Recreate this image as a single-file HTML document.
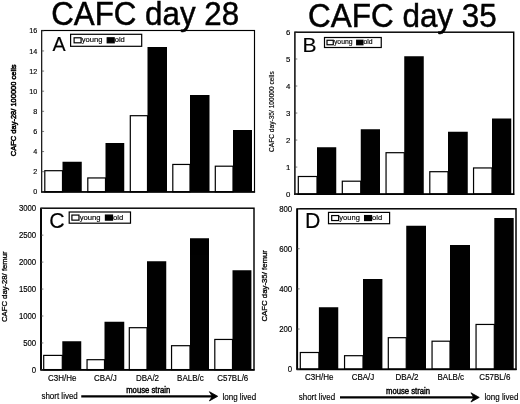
<!DOCTYPE html>
<html><head><meta charset="utf-8"><title>CAFC</title>
<style>
html,body{margin:0;padding:0;background:#fff;}
text{stroke:#000;stroke-width:0.15px;}
svg{display:block;opacity:0.999;will-change:transform;font-family:"Liberation Sans", sans-serif;fill:#000;}
</style></head><body>
<svg width="520" height="404" viewBox="0 0 520 404">
<rect x="0" y="0" width="520" height="404" fill="#fff"/>
<rect x="44.80" y="170.70" width="17.70" height="21.10" fill="#fff" stroke="#000" stroke-width="1.2"/>
<rect x="62.50" y="161.75" width="19.25" height="30.05" fill="#000"/>
<rect x="87.80" y="177.95" width="17.70" height="13.85" fill="#fff" stroke="#000" stroke-width="1.2"/>
<rect x="105.50" y="143.00" width="18.75" height="48.80" fill="#000"/>
<rect x="130.30" y="115.70" width="17.20" height="76.10" fill="#fff" stroke="#000" stroke-width="1.2"/>
<rect x="147.50" y="47.00" width="19.50" height="144.80" fill="#000"/>
<rect x="172.80" y="164.45" width="17.20" height="27.35" fill="#fff" stroke="#000" stroke-width="1.2"/>
<rect x="190.00" y="95.00" width="19.50" height="96.80" fill="#000"/>
<rect x="215.30" y="166.20" width="17.70" height="25.60" fill="#fff" stroke="#000" stroke-width="1.2"/>
<rect x="233.00" y="130.00" width="19.00" height="61.80" fill="#000"/>
<rect x="41.70" y="30.50" width="212.80" height="161.30" fill="none" stroke="#000" stroke-width="1.15"/>
<line x1="41.10" x2="255.10" y1="192.05" y2="192.05" stroke="#000" stroke-width="1.5"/>
<text transform="translate(37.20,194.36)" font-size="7.2" text-anchor="end">0</text>
<line x1="41.70" x2="44.10" y1="191.80" y2="191.80" stroke="#444" stroke-width="0.7"/>
<text transform="translate(37.20,174.24)" font-size="7.2" text-anchor="end">2</text>
<line x1="41.70" x2="44.10" y1="171.68" y2="171.68" stroke="#444" stroke-width="0.7"/>
<text transform="translate(37.20,154.12)" font-size="7.2" text-anchor="end">4</text>
<line x1="41.70" x2="44.10" y1="151.56" y2="151.56" stroke="#444" stroke-width="0.7"/>
<text transform="translate(37.20,134.00)" font-size="7.2" text-anchor="end">6</text>
<line x1="41.70" x2="44.10" y1="131.44" y2="131.44" stroke="#444" stroke-width="0.7"/>
<text transform="translate(37.20,113.88)" font-size="7.2" text-anchor="end">8</text>
<line x1="41.70" x2="44.10" y1="111.32" y2="111.32" stroke="#444" stroke-width="0.7"/>
<text transform="translate(37.20,93.76)" font-size="7.2" text-anchor="end">10</text>
<line x1="41.70" x2="44.10" y1="91.20" y2="91.20" stroke="#444" stroke-width="0.7"/>
<text transform="translate(37.20,73.64)" font-size="7.2" text-anchor="end">12</text>
<line x1="41.70" x2="44.10" y1="71.08" y2="71.08" stroke="#444" stroke-width="0.7"/>
<text transform="translate(37.20,53.52)" font-size="7.2" text-anchor="end">14</text>
<line x1="41.70" x2="44.10" y1="50.96" y2="50.96" stroke="#444" stroke-width="0.7"/>
<text transform="translate(37.20,33.40)" font-size="7.2" text-anchor="end">16</text>
<line x1="41.70" x2="44.10" y1="30.84" y2="30.84" stroke="#444" stroke-width="0.7"/>
<text transform="translate(16.35,110.30) rotate(-90)" font-size="7.5" text-anchor="middle" style="stroke-width:0.5px">CAFC day-28/ 100000 cells</text>
<text transform="translate(52.60,50.70)" font-size="19.7" text-anchor="start">A</text>
<rect x="70.60" y="34.30" width="71.10" height="12.00" fill="#fff" stroke="#000" stroke-width="1.2"/>
<rect x="74.10" y="37.79" width="6.99" height="5.02" fill="#fff" stroke="#000" stroke-width="1.2"/>
<text transform="translate(81.79,42.35)" font-size="7.6" text-anchor="start">young</text>
<rect x="107.21" y="37.79" width="6.99" height="5.02" fill="#000" stroke="#000" stroke-width="1.2"/>
<text transform="translate(114.70,42.35)" font-size="7.6" text-anchor="start">old</text>
<rect x="298.30" y="176.50" width="18.70" height="17.60" fill="#fff" stroke="#000" stroke-width="1.2"/>
<rect x="317.00" y="147.25" width="19.25" height="46.85" fill="#000"/>
<rect x="342.30" y="181.20" width="18.45" height="12.90" fill="#fff" stroke="#000" stroke-width="1.2"/>
<rect x="360.75" y="129.25" width="19.25" height="64.85" fill="#000"/>
<rect x="386.05" y="152.70" width="18.20" height="41.40" fill="#fff" stroke="#000" stroke-width="1.2"/>
<rect x="404.25" y="56.25" width="19.50" height="137.85" fill="#000"/>
<rect x="429.80" y="171.70" width="18.20" height="22.40" fill="#fff" stroke="#000" stroke-width="1.2"/>
<rect x="448.00" y="131.75" width="19.75" height="62.35" fill="#000"/>
<rect x="473.55" y="167.95" width="18.45" height="26.15" fill="#fff" stroke="#000" stroke-width="1.2"/>
<rect x="492.00" y="118.50" width="19.25" height="75.60" fill="#000"/>
<rect x="294.90" y="32.20" width="218.80" height="161.90" fill="none" stroke="#000" stroke-width="1.45"/>
<line x1="294.30" x2="514.30" y1="194.35" y2="194.35" stroke="#000" stroke-width="1.5"/>
<text transform="translate(290.40,196.87)" font-size="7.8" text-anchor="end">0</text>
<line x1="294.90" x2="297.30" y1="194.10" y2="194.10" stroke="#444" stroke-width="0.7"/>
<text transform="translate(290.40,169.85)" font-size="7.8" text-anchor="end">1</text>
<line x1="294.90" x2="297.30" y1="167.08" y2="167.08" stroke="#444" stroke-width="0.7"/>
<text transform="translate(290.40,142.83)" font-size="7.8" text-anchor="end">2</text>
<line x1="294.90" x2="297.30" y1="140.06" y2="140.06" stroke="#444" stroke-width="0.7"/>
<text transform="translate(290.40,115.81)" font-size="7.8" text-anchor="end">3</text>
<line x1="294.90" x2="297.30" y1="113.04" y2="113.04" stroke="#444" stroke-width="0.7"/>
<text transform="translate(290.40,88.79)" font-size="7.8" text-anchor="end">4</text>
<line x1="294.90" x2="297.30" y1="86.02" y2="86.02" stroke="#444" stroke-width="0.7"/>
<text transform="translate(290.40,61.77)" font-size="7.8" text-anchor="end">5</text>
<line x1="294.90" x2="297.30" y1="59.00" y2="59.00" stroke="#444" stroke-width="0.7"/>
<text transform="translate(290.40,34.75)" font-size="7.8" text-anchor="end">6</text>
<line x1="294.90" x2="297.30" y1="31.98" y2="31.98" stroke="#444" stroke-width="0.7"/>
<text transform="translate(274.22,111.60) rotate(-90)" font-size="6.6" text-anchor="middle" style="stroke-width:0.15px">CAFC day-35/ 100000 cells</text>
<text transform="translate(302.60,52.00)" font-size="21" text-anchor="start">B</text>
<rect x="324.50" y="37.50" width="56.75" height="10.00" fill="#fff" stroke="#000" stroke-width="1.2"/>
<rect x="327.00" y="40.26" width="6.26" height="4.49" fill="#fff" stroke="#000" stroke-width="1.2"/>
<text transform="translate(333.96,44.34)" font-size="6.8" text-anchor="start">young</text>
<rect x="356.70" y="40.26" width="6.26" height="4.49" fill="#000" stroke="#000" stroke-width="1.2"/>
<text transform="translate(363.45,44.34)" font-size="6.8" text-anchor="start">old</text>
<rect x="43.70" y="355.40" width="18.60" height="14.30" fill="#fff" stroke="#000" stroke-width="1.2"/>
<rect x="62.30" y="341.25" width="18.95" height="28.45" fill="#000"/>
<rect x="87.05" y="359.70" width="17.45" height="10.00" fill="#fff" stroke="#000" stroke-width="1.2"/>
<rect x="104.50" y="321.75" width="19.75" height="47.95" fill="#000"/>
<rect x="129.30" y="327.70" width="17.70" height="42.00" fill="#fff" stroke="#000" stroke-width="1.2"/>
<rect x="147.00" y="261.25" width="19.25" height="108.45" fill="#000"/>
<rect x="171.55" y="345.70" width="18.45" height="24.00" fill="#fff" stroke="#000" stroke-width="1.2"/>
<rect x="190.00" y="238.25" width="19.00" height="131.45" fill="#000"/>
<rect x="214.80" y="339.45" width="17.70" height="30.25" fill="#fff" stroke="#000" stroke-width="1.2"/>
<rect x="232.50" y="270.25" width="18.90" height="99.45" fill="#000"/>
<rect x="41.00" y="208.20" width="213.00" height="161.50" fill="none" stroke="#000" stroke-width="1.45"/>
<line x1="41.00" x2="41.00" y1="208.20" y2="369.70" stroke="#000" stroke-width="1.8"/>
<line x1="40.40" x2="254.60" y1="369.95" y2="369.95" stroke="#000" stroke-width="1.5"/>
<text transform="translate(36.20,373.00) scale(1,1.12)" font-size="7.8" text-anchor="end">0</text>
<line x1="41.00" x2="43.40" y1="369.90" y2="369.90" stroke="#444" stroke-width="0.7"/>
<text transform="translate(36.20,346.05) scale(1,1.12)" font-size="7.8" text-anchor="end">500</text>
<line x1="41.00" x2="43.40" y1="342.95" y2="342.95" stroke="#444" stroke-width="0.7"/>
<text transform="translate(36.20,319.10) scale(1,1.12)" font-size="7.8" text-anchor="end">1000</text>
<line x1="41.00" x2="43.40" y1="316.00" y2="316.00" stroke="#444" stroke-width="0.7"/>
<text transform="translate(36.20,292.15) scale(1,1.12)" font-size="7.8" text-anchor="end">1500</text>
<line x1="41.00" x2="43.40" y1="289.05" y2="289.05" stroke="#444" stroke-width="0.7"/>
<text transform="translate(36.20,265.20) scale(1,1.12)" font-size="7.8" text-anchor="end">2000</text>
<line x1="41.00" x2="43.40" y1="262.10" y2="262.10" stroke="#444" stroke-width="0.7"/>
<text transform="translate(36.20,238.25) scale(1,1.12)" font-size="7.8" text-anchor="end">2500</text>
<line x1="41.00" x2="43.40" y1="235.15" y2="235.15" stroke="#444" stroke-width="0.7"/>
<text transform="translate(36.20,211.30) scale(1,1.12)" font-size="7.8" text-anchor="end">3000</text>
<line x1="41.00" x2="43.40" y1="208.20" y2="208.20" stroke="#444" stroke-width="0.7"/>
<text transform="translate(7.20,286.70) rotate(-90)" font-size="7.7" text-anchor="middle" style="stroke-width:0.3px">CAFC day-28/ femur</text>
<text transform="translate(49.30,227.90)" font-size="21.3" text-anchor="start">C</text>
<rect x="69.20" y="212.00" width="61.30" height="11.20" fill="#fff" stroke="#000" stroke-width="1.2"/>
<rect x="71.90" y="215.06" width="7.08" height="5.08" fill="#fff" stroke="#000" stroke-width="1.2"/>
<text transform="translate(79.68,219.68)" font-size="7.7" text-anchor="start">young</text>
<rect x="105.43" y="215.06" width="7.08" height="5.08" fill="#000" stroke="#000" stroke-width="1.2"/>
<text transform="translate(113.02,219.68)" font-size="7.7" text-anchor="start">old</text>
<rect x="300.30" y="352.50" width="18.60" height="16.70" fill="#fff" stroke="#000" stroke-width="1.2"/>
<rect x="318.90" y="307.25" width="19.35" height="61.95" fill="#000"/>
<rect x="344.55" y="355.70" width="18.45" height="13.50" fill="#fff" stroke="#000" stroke-width="1.2"/>
<rect x="363.00" y="279.00" width="19.40" height="90.20" fill="#000"/>
<rect x="388.30" y="337.70" width="17.95" height="31.50" fill="#fff" stroke="#000" stroke-width="1.2"/>
<rect x="406.25" y="225.75" width="19.75" height="143.45" fill="#000"/>
<rect x="432.05" y="341.20" width="17.95" height="28.00" fill="#fff" stroke="#000" stroke-width="1.2"/>
<rect x="450.00" y="245.00" width="20.00" height="124.20" fill="#000"/>
<rect x="476.05" y="324.45" width="18.25" height="44.75" fill="#fff" stroke="#000" stroke-width="1.2"/>
<rect x="494.30" y="218.00" width="19.40" height="151.20" fill="#000"/>
<rect x="297.20" y="208.80" width="218.80" height="160.40" fill="none" stroke="#000" stroke-width="1.5"/>
<line x1="297.20" x2="297.20" y1="208.80" y2="369.20" stroke="#000" stroke-width="1.8"/>
<line x1="296.60" x2="516.60" y1="369.45" y2="369.45" stroke="#000" stroke-width="1.5"/>
<text transform="translate(292.20,372.30) scale(1,1.12)" font-size="7.8" text-anchor="end">0</text>
<line x1="297.20" x2="299.60" y1="369.20" y2="369.20" stroke="#444" stroke-width="0.7"/>
<text transform="translate(292.20,332.14) scale(1,1.12)" font-size="7.8" text-anchor="end">200</text>
<line x1="297.20" x2="299.60" y1="329.04" y2="329.04" stroke="#444" stroke-width="0.7"/>
<text transform="translate(292.20,291.98) scale(1,1.12)" font-size="7.8" text-anchor="end">400</text>
<line x1="297.20" x2="299.60" y1="288.88" y2="288.88" stroke="#444" stroke-width="0.7"/>
<text transform="translate(292.20,251.82) scale(1,1.12)" font-size="7.8" text-anchor="end">600</text>
<line x1="297.20" x2="299.60" y1="248.72" y2="248.72" stroke="#444" stroke-width="0.7"/>
<text transform="translate(292.20,211.66) scale(1,1.12)" font-size="7.8" text-anchor="end">800</text>
<line x1="297.20" x2="299.60" y1="208.56" y2="208.56" stroke="#444" stroke-width="0.7"/>
<text transform="translate(267.43,285.80) rotate(-90)" font-size="7.8" text-anchor="middle" style="stroke-width:0.3px">CAFC day-35/ femur</text>
<text transform="translate(304.95,228.10)" font-size="21.3" text-anchor="start">D</text>
<rect x="328.50" y="212.40" width="61.10" height="11.30" fill="#fff" stroke="#000" stroke-width="1.2"/>
<rect x="331.70" y="215.56" width="6.95" height="4.98" fill="#fff" stroke="#000" stroke-width="1.2"/>
<text transform="translate(339.35,220.09)" font-size="7.55" text-anchor="start">young</text>
<rect x="364.59" y="215.56" width="6.95" height="4.98" fill="#000" stroke="#000" stroke-width="1.2"/>
<text transform="translate(372.04,220.09)" font-size="7.55" text-anchor="start">old</text>
<text transform="translate(51.20,24.60) scale(1,1.06)" font-size="31.3" text-anchor="start" style="stroke-width:0.45px">CAFC day 28</text>
<text transform="translate(308.10,26.70) scale(1,1.06)" font-size="31.45" text-anchor="start" style="stroke-width:0.45px">CAFC day 35</text>
<text transform="translate(62.25,380.63) scale(1,1.07)" font-size="8" text-anchor="middle">C3H/He</text>
<text transform="translate(105.40,380.63) scale(1,1.07)" font-size="8" text-anchor="middle">CBA/J</text>
<text transform="translate(147.50,380.63) scale(1,1.07)" font-size="8" text-anchor="middle">DBA/2</text>
<text transform="translate(190.40,380.63) scale(1,1.07)" font-size="8" text-anchor="middle">BALB/c</text>
<text transform="translate(232.75,380.63) scale(1,1.07)" font-size="8" text-anchor="middle">C57BL/6</text>
<text transform="translate(319.30,380.38) scale(1,1.07)" font-size="8" text-anchor="middle">C3H/He</text>
<text transform="translate(363.00,380.38) scale(1,1.07)" font-size="8" text-anchor="middle">CBA/J</text>
<text transform="translate(407.00,380.38) scale(1,1.07)" font-size="8" text-anchor="middle">DBA/2</text>
<text transform="translate(450.80,380.38) scale(1,1.07)" font-size="8" text-anchor="middle">BALB/c</text>
<text transform="translate(494.90,380.38) scale(1,1.07)" font-size="8" text-anchor="middle">C57BL/6</text>
<text transform="translate(41.40,398.90) scale(1,1.07)" font-size="8" text-anchor="start">short lived</text>
<text transform="translate(126.20,393.30) scale(1,1.07)" font-size="7.7" text-anchor="start" style="stroke-width:0.4px">mouse strain</text>
<text transform="translate(222.50,400.10) scale(1,1.07)" font-size="8" text-anchor="start">long lived</text>
<line x1="81.25" x2="213.7" y1="396.3" y2="396.3" stroke="#000" stroke-width="2.3"/>
<polygon points="209.39999999999998,391.7 217.7,396.3 209.39999999999998,400.90000000000003 212.29999999999998,396.3" fill="#000" stroke="#000" stroke-width="0.8" stroke-linejoin="miter"/>
<text transform="translate(298.70,400.40) scale(1,1.07)" font-size="8" text-anchor="start">short lived</text>
<text transform="translate(386.00,393.50) scale(1,1.07)" font-size="7.7" text-anchor="start" style="stroke-width:0.4px">mouse strain</text>
<text transform="translate(484.60,400.40) scale(1,1.07)" font-size="8" text-anchor="start">long lived</text>
<line x1="340" x2="475.25" y1="397.4" y2="397.4" stroke="#000" stroke-width="2.3"/>
<polygon points="470.95,392.79999999999995 479.25,397.4 470.95,402.0 473.85,397.4" fill="#000" stroke="#000" stroke-width="0.8" stroke-linejoin="miter"/>
</svg>
</body></html>
